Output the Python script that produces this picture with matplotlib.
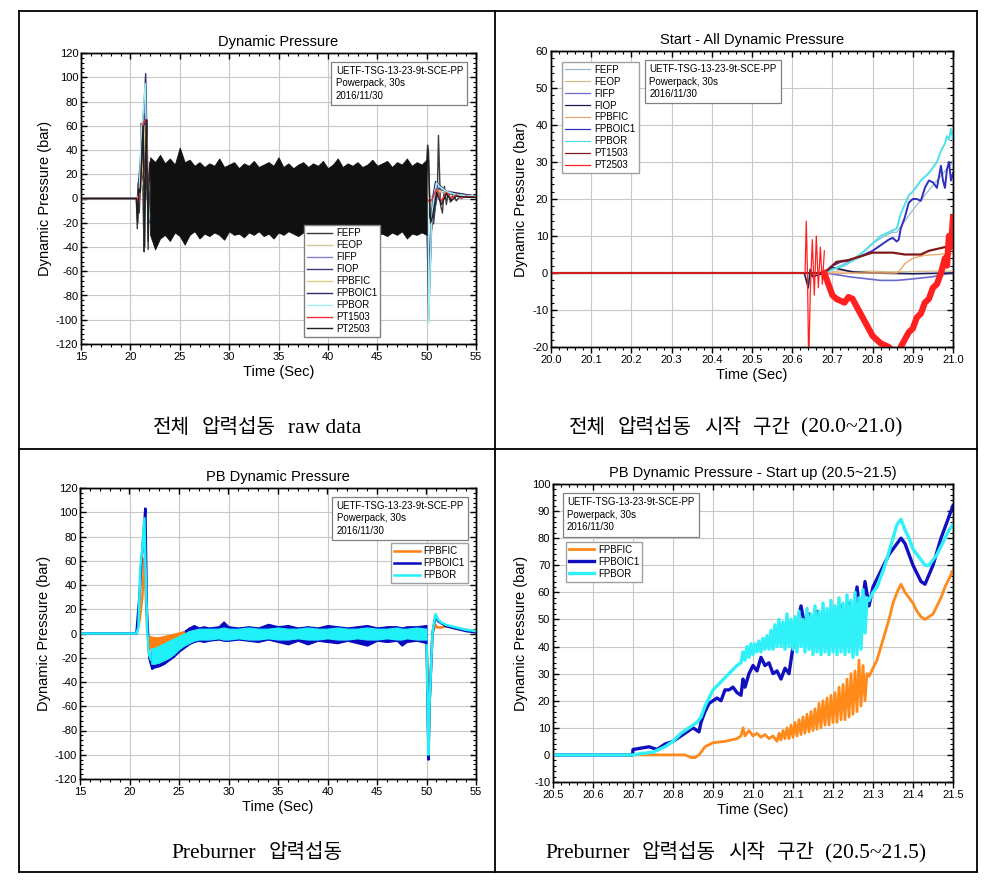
import matplotlib
matplotlib.use("Agg")
import matplotlib.pyplot as plt
from matplotlib.lines import Line2D
from matplotlib.ticker import MultipleLocator, AutoMinorLocator
from matplotlib.offsetbox import TextArea, HPacker, AnchoredOffsetbox

plt.rcParams['font.family'] = ['Liberation Sans', 'DejaVu Sans']
plt.rcParams['axes.unicode_minus'] = False

W, H = 995, 882
INFO = "UETF-TSG-13-23-9t-SCE-PP\nPowerpack, 30s\n2016/11/30"

# -------------------------
# Panel 1: Dynamic Pressure (raw data, 15~55 s)
# -------------------------
p1_names = ["FEFP", "FEOP", "FIFP", "FIOP", "FPBFIC", "FPBOIC1", "FPBOR", "PT1503", "PT2503"]
p1_colors = ["#3a3a3a", "#cfc79a", "#8080d8", "#3c3c78", "#d8d080", "#303070", "#9ff0f4", "#e83040", "#202020"]

p1_fefp_t = [15, 20.6, 20.7, 20.8, 20.9, 21.0, 21.1, 21.2, 21.3, 21.4, 21.5, 21.6, 21.7, 21.8, 21.9, 22.0, 22.3, 49.9,
             50.0, 50.1, 50.2, 50.3, 50.5, 50.7, 50.9, 51.1, 51.2, 51.4, 51.6, 51.8, 52.0, 52.2, 52.4, 52.7, 53.0, 53.5, 54.0, 55.0]
p1_fefp_v = [0, 0, -25, 13, -12, 8, 62, 58, -10, -44, 55, 66, 64, -42, 12, 30, 0, 0,
             25, 44, 38, -15, -20, -21, -5, 10, 52, -5, -12, 10, -5, 6, -3, 4, -2, 3, 1, 2]
p1_feop_t = [15, 20.7, 21.0, 21.3, 21.6, 22.0, 22.3, 50.0, 50.6, 51.0, 51.5, 52.5, 55.0]
p1_feop_v = [0, 0, 5, 15, 25, 5, 0, 0, 2, 8, 5, 3, 2]
p1_fifp_t = [15, 20.7, 21.0, 21.3, 21.5, 21.7, 22.0, 22.3, 50.0, 50.2, 50.5, 51.0, 52.0, 55.0]
p1_fifp_v = [0, 0, 10, 40, 80, 10, -5, 0, 0, -60, -10, 10, 5, 2]
p1_fiop_t = [15, 20.7, 20.9, 21.2, 21.5, 21.7, 22.0, 22.3, 50.0, 50.2, 50.4, 50.8, 51.2, 52.0, 55.0]
p1_fiop_v = [0, 0, 5, 40, 70, 0, -10, 0, 0, -75, -30, -10, 8, 4, 2]
p1_fpbfic_t = [15, 20.7, 21.0, 21.3, 21.5, 21.8, 22.0, 22.3, 50.0, 50.2, 50.6, 51.0, 52.0, 55.0]
p1_fpbfic_v = [0, 0, 10, 30, 60, 0, -8, 0, 0, -95, 0, 7, 5, 2]
p1_fpboic1_t = [15, 20.7, 21.0, 21.2, 21.4, 21.55, 21.75, 22.0, 22.3, 50.0, 50.2, 50.6, 50.9, 52.0, 55.0]
p1_fpboic1_v = [0, 0, 30, 58, 80, 103, 20, -20, 0, 0, -100, 0, 14, 6, 2]
p1_fpbor_t = [15, 20.7, 20.9, 21.1, 21.3, 21.5, 21.6, 21.8, 22.0, 22.3, 50.0, 50.15, 50.22, 50.35, 50.5, 50.7, 51.0, 51.3, 52.0, 53.0, 55.0]
p1_fpbor_v = [0, 0, 5, 55, 70, 95, 60, 0, -18, 0, 0, 0, -103, -60, -20, 0, 13, 10, 6, 3, 2]
p1_pt1503_t = [15, 20.7, 20.9, 21.1, 21.3, 21.5, 21.6, 21.8, 22.0, 50.0, 50.3, 50.6, 51.0, 51.5, 52.0, 52.5, 53.0, 53.5, 54.0, 55.0]
p1_pt1503_v = [0, 0, -3, 20, 62, 65, 60, -2, 0, 0, -3, 0, 8, -2, 5, 0, 3, 0, 2, 1]

# noise band of PT2503 (envelope, 0.5 s steps from 22.0 to 50.0)
p1_band_t = [22.0, 22.5, 23.0, 23.5, 24.0, 24.5, 25.0, 25.5, 26.0, 26.5, 27.0, 27.5, 28.0, 28.5, 29.0, 29.5,
             30.0, 30.5, 31.0, 31.5, 32.0, 32.5, 33.0, 33.5, 34.0, 34.5, 35.0, 35.5, 36.0, 36.5, 37.0, 37.5,
             38.0, 38.5, 39.0, 39.5, 40.0, 40.5, 41.0, 41.5, 42.0, 42.5, 43.0, 43.5, 44.0, 44.5, 45.0, 45.5,
             46.0, 46.5, 47.0, 47.5, 48.0, 48.5, 49.0, 49.5, 50.0]
p1_band_hi = [34, 30, 36, 29, 33, 28, 42, 30, 32, 27, 30, 26, 29, 27, 33, 26,
              28, 30, 25, 29, 27, 31, 26, 28, 30, 27, 34, 26, 29, 25, 28, 30,
              26, 29, 27, 31, 25, 28, 33, 26, 29, 27, 30, 26, 28, 32, 27, 29,
              31, 26, 30, 28, 33, 27, 30, 28, 32]
p1_band_lo = [-30, -42, -33, -30, -35, -28, -31, -38, -30, -27, -33, -29, -31, -28, -30, -34,
              -27, -30, -29, -32, -28, -30, -27, -31, -29, -33, -28, -30, -27, -29, -31, -28,
              -30, -33, -27, -29, -31, -28, -30, -27, -32, -29, -28, -30, -35, -28, -30, -29,
              -31, -28, -30, -27, -33, -29, -30, -28, -30]
p1_pt2503_t = [15, 20.6, 20.75, 20.85, 21.0, 21.3, 21.45, 21.6, 21.8, 21.9, 22.0, 22.3, 49.9, 50.0, 50.1, 50.2, 50.4, 50.6, 51.0, 51.5, 52.0, 52.5, 53.0, 54.0, 55.0]
p1_pt2503_v = [0, 0, -20, 8, 5, 60, -40, 65, -35, 20, 30, 0, 0, 20, 40, 30, -20, -15, 5, -5, 4, -2, 2, 1, 1]

# -------------------------
# Panel 2: Start - All Dynamic Pressure (20.0~21.0)
# -------------------------
p2_colors = ["#9ab8d0", "#d2b888", "#6a6ad0", "#1c1c50", "#f0a868", "#3030c0", "#50e0e8", "#801818", "#ff2020"]

p2_fefp_t = [20.0, 20.68, 20.7, 20.74, 20.78, 20.8, 20.83, 20.85, 20.86, 20.88, 20.9, 20.93, 20.96, 21.0]
p2_fefp_v = [0, 0, 1, 3, 6, 8, 10, 11, 11, 14, 17, 21, 25, 30]
p2_feop_t = [20.0, 20.68, 20.72, 20.76, 20.8, 20.85, 20.9, 20.95, 21.0]
p2_feop_v = [0, 0, 0.6, 0.4, 0.5, 0.3, 0.4, 0.5, 0.5]
p2_fifp_t = [20.0, 20.68, 20.7, 20.72, 20.74, 20.78, 20.82, 20.86, 20.9, 20.95, 20.97, 21.0]
p2_fifp_v = [0, 0, -0.3, -0.6, -1.0, -1.5, -2.0, -2.0, -1.6, -1.0, -0.5, 0]
p2_fiop_t = [20.0, 20.63, 20.64, 20.645, 20.65, 20.68, 20.7, 20.72, 20.75, 20.8, 20.9, 21.0]
p2_fiop_v = [0, 0, -4, 1, -1, 0, 1.5, 1.0, 0.3, 0, -0.2, 0]
p2_fpbfic_t = [20.0, 20.86, 20.87, 20.88, 20.9, 20.93, 20.96, 21.0]
p2_fpbfic_v = [0, 0, 1, 2.5, 4, 4.8, 5, 5.2]
p2_fpboic1_t = [20.0, 20.68, 20.7, 20.72, 20.75, 20.78, 20.8, 20.82, 20.84, 20.85, 20.86, 20.865, 20.87, 20.88, 20.89,
                20.9, 20.91, 20.92, 20.93, 20.94, 20.95, 20.96, 20.97, 20.975, 20.98, 20.985, 20.99, 20.995, 21.0]
p2_fpboic1_v = [0, 0, 2, 3, 3.5, 5, 6, 7.5, 9, 9.5, 8.5, 9, 12, 15, 19,
                20, 20, 19.5, 23, 25, 24.5, 23, 29, 25, 23, 28, 30, 25, 27]
p2_fpbor_t = [20.0, 20.68, 20.7, 20.73, 20.76, 20.78, 20.8, 20.82, 20.84, 20.86, 20.87, 20.89, 20.9, 20.92, 20.94,
              20.96, 20.97, 20.98, 20.985, 20.99, 20.995, 21.0]
p2_fpbor_v = [0, 0, 1, 2, 4, 6, 8, 10, 11, 12, 16, 21, 22, 25, 27, 30, 33, 35, 37, 36, 39, 36]
p2_pt1503_t = [20.0, 20.68, 20.69, 20.71, 20.74, 20.77, 20.8, 20.85, 20.88, 20.92, 20.94, 20.96, 20.98, 21.0]
p2_pt1503_v = [0, 0, 1, 3, 3.5, 4.5, 5.5, 5.5, 5, 5, 6, 6.5, 7, 7]
p2_pt2503_t = [20.0, 20.632, 20.635, 20.638, 20.641, 20.645, 20.65, 20.655, 20.66, 20.665, 20.67, 20.675, 20.68]
p2_pt2503_v = [0, 0, 14, 0, -25, -5, 9, -6, 10, -4, 7, -3, 6]
p2_pt2503_band_t = [20.68, 20.69, 20.7, 20.71, 20.72, 20.73, 20.74, 20.75, 20.76, 20.77, 20.78, 20.79, 20.8, 20.81,
                    20.82, 20.83, 20.84, 20.85, 20.86, 20.87, 20.88, 20.89, 20.9, 20.91, 20.92, 20.93, 20.94,
                    20.95, 20.96, 20.97, 20.98, 20.985, 20.99, 20.995, 21.0]
p2_pt2503_band_v = [0, -3, -6, -7, -7.5, -8, -6.5, -7, -9, -11, -13, -15, -17, -18,
                    -19, -19.5, -20, -21, -22, -20, -18, -16, -15, -12, -11, -8, -7,
                    -4, -3, 0, 4, 2, 10, 7, 15]

# -------------------------
# Panel 3: PB Dynamic Pressure (15~55)
# -------------------------
p3_names = ["FPBFIC", "FPBOIC1", "FPBOR"]
p3_colors = ["#ff8010", "#0808c0", "#20f0f8"]

p3_fpbfic_t = [15, 20.7, 21.0, 21.3, 21.5, 21.6, 21.8, 22.0, 23.0, 24.0, 25.0, 26.0, 27.0, 49.9,
               50.0, 50.1, 50.2, 50.3, 50.6, 50.9, 51.1, 51.5, 52.0, 53.0, 54.0, 55.0]
p3_fpbfic_v = [0, 0, 10, 30, 62, 40, 0, -8, -9, -6, -3, -1, 0, 0,
               0, -40, -100, -60, 0, 7, 5, 5, 6, 4, 3, 2]
p3_fpboic1_t = [15, 20.7, 21.0, 21.2, 21.4, 21.6, 21.75, 22.0, 22.3, 23.0, 24.0, 25.0, 26.0, 27.0, 49.9,
                50.0, 50.1, 50.2, 50.3, 50.6, 50.9, 51.2, 52.0, 53.0, 54.0, 55.0]
p3_fpboic1_v = [0, 0, 30, 58, 80, 103, 20, -20, -29, -24, -16, -8, -3, 0, 0,
                0, -50, -104, -60, 0, 14, 10, 6, 4, 2, 1]
p3_fpbor_t = [15, 20.7, 20.9, 21.1, 21.3, 21.5, 21.6, 21.8, 22.0, 22.2, 23.0, 24.0, 25.0, 26.0, 27.0, 49.9,
              50.0, 50.1, 50.2, 50.3, 50.6, 50.9, 51.2, 51.5, 52.0, 53.0, 54.0, 55.0]
p3_fpbor_v = [0, 0, 5, 55, 70, 95, 60, 0, -18, -22, -18, -13, -7, -3, 0, 0,
              0, -50, -100, -60, 0, 16, 11, 9, 7, 5, 3, 2]

p3_band_t = [22.2, 22.5, 23.0, 23.5, 24.0, 24.5, 25.0, 25.5, 26.0, 26.5, 27.0, 27.5, 28.0, 29.0, 29.5, 30.0, 31.0, 32.0,
             33.0, 34.0, 35.0, 36.0, 37.0, 38.0, 39.0, 40.0, 41.0, 42.0, 43.0, 44.0, 45.0, 46.0, 47.0, 47.5, 48.0,
             49.0, 50.0]
p3_blue_hi = [-10, -10, -8, -6, -4, -2, 0, 2, 5, 7, 5, 6, 5, 6, 10, 6, 5, 6, 5, 8, 6, 7, 5, 6, 5, 7, 6, 5, 6, 7, 5, 6, 6, 5, 6, 6, 7]
p3_blue_lo = [-29, -28, -27, -25, -22, -19, -15, -12, -9, -7, -6, -7, -6, -5, -6, -6, -5, -6, -7, -5, -7, -9, -6, -9, -6, -7, -8, -6, -8, -10, -6, -7, -6, -10, -7, -6, -8]
p3_cyan_hi = [-12, -12, -10, -8, -6, -4, -2, 0, 2, 3, 4, 4, 4, 4, 5, 4, 4, 5, 4, 4, 5, 4, 4, 5, 4, 4, 5, 4, 4, 5, 4, 4, 5, 4, 4, 5, 4]
p3_cyan_lo = [-25, -25, -24, -22, -20, -17, -13, -10, -8, -6, -5, -5, -5, -4, -5, -5, -4, -5, -5, -4, -5, -5, -4, -5, -5, -4, -5, -5, -4, -5, -5, -4, -5, -5, -4, -5, -5]
p3_orange_t = [22.0, 22.5, 23.0, 23.5, 24.0, 24.5, 25.0, 25.5]
p3_orange_hi = [-2, -3, -3, -2, -1, 0, 1, 2]
p3_orange_lo = [-12, -15, -14, -13, -12, -10, -8, -6]

# -------------------------
# Panel 4: PB Dynamic Pressure - Start up (20.5~21.5)
# -------------------------
p4_fpbfic_t = [20.5, 20.83, 20.845, 20.855, 20.865, 20.88, 20.9, 20.93, 20.96, 20.97, 20.975, 20.98, 20.99, 21.0,
               21.01, 21.02, 21.03, 21.04, 21.05,
               21.060, 21.065, 21.070, 21.075, 21.080, 21.085, 21.090, 21.095, 21.100, 21.105, 21.110, 21.115,
               21.120, 21.125, 21.130, 21.135, 21.140, 21.145, 21.150, 21.155, 21.160, 21.165, 21.170, 21.175,
               21.180, 21.185, 21.190, 21.195, 21.200, 21.205, 21.210, 21.215, 21.220, 21.225, 21.230, 21.235,
               21.240, 21.245, 21.250, 21.255, 21.260, 21.265, 21.270, 21.275, 21.280, 21.285,
               21.29, 21.3, 21.31, 21.32, 21.33, 21.34, 21.35, 21.36, 21.37, 21.38, 21.39, 21.4, 21.41, 21.42,
               21.43, 21.44, 21.45, 21.46, 21.47, 21.48, 21.49, 21.5]
p4_fpbfic_v = [0, 0, -1, -1, 0, 3, 4.5, 5, 6, 7, 10, 7, 9, 7,
               8, 6.5, 7.5, 6, 7,
               5, 8, 5.5, 9, 6, 10, 6, 11, 6.5, 12, 7, 13,
               7.5, 14, 8, 15, 8.5, 16, 9, 17, 9.5, 19, 10, 20,
               11, 21, 11, 22, 12, 23, 12, 25, 13, 26, 13, 28,
               14, 30, 15, 31, 16, 35, 18, 33, 20, 30,
               29, 32, 35, 40, 45, 50, 56, 60, 63, 60, 58, 56, 53, 51,
               50, 51, 52, 55, 58, 62, 65, 68]
p4_fpboic1_t = [20.5, 20.699, 20.7, 20.72, 20.74, 20.75, 20.76, 20.78, 20.8, 20.82, 20.84, 20.85, 20.86, 20.865,
                20.87, 20.88, 20.89, 20.9, 20.91, 20.92, 20.93, 20.94, 20.95, 20.96, 20.97, 20.975, 20.98, 20.99,
                21.0, 21.01, 21.02, 21.03, 21.04, 21.05, 21.06, 21.07, 21.08, 21.09, 21.1, 21.11, 21.12, 21.13,
                21.14, 21.15, 21.16, 21.17, 21.18, 21.19, 21.2, 21.21, 21.22, 21.23, 21.24, 21.25, 21.26, 21.27,
                21.28, 21.29, 21.3, 21.32, 21.34, 21.36, 21.37, 21.38, 21.4, 21.42, 21.43, 21.45, 21.47, 21.49, 21.5]
p4_fpboic1_v = [0, 0, 2, 2.5, 3, 2.5, 2, 4, 5, 7, 9, 10, 9, 8.5,
                12, 16, 19, 20, 21, 20, 24, 24, 25, 23, 22, 28, 25, 30,
                33, 31, 36, 33, 34, 30, 31, 28, 32, 30, 40, 48, 55, 47,
                52, 45, 53, 44, 50, 45, 48, 46, 55, 45, 56, 48, 62, 50,
                64, 55, 62, 68, 74, 78, 80, 78, 70, 64, 63, 70, 80, 88, 92]
p4_fpbor_t = [20.5, 20.7, 20.72, 20.75, 20.78, 20.8, 20.82, 20.84, 20.86, 20.87, 20.88, 20.9, 20.92, 20.94, 20.96,
              20.970, 20.975, 20.980, 20.985, 20.990, 20.995, 21.000, 21.005, 21.010, 21.015, 21.020, 21.025,
              21.030, 21.035, 21.040, 21.045, 21.050, 21.055, 21.060, 21.065, 21.070, 21.075, 21.080, 21.085,
              21.090, 21.095, 21.100, 21.105, 21.110, 21.115, 21.120, 21.125, 21.130, 21.135, 21.140, 21.145,
              21.150, 21.155, 21.160, 21.165, 21.170, 21.175, 21.180, 21.185, 21.190, 21.195, 21.200, 21.205,
              21.210, 21.215, 21.220, 21.225, 21.230, 21.235, 21.240, 21.245, 21.250, 21.255, 21.260, 21.265,
              21.270, 21.275, 21.280, 21.285,
              21.29, 21.3, 21.31, 21.32, 21.33, 21.34, 21.35, 21.36, 21.37, 21.38, 21.39, 21.4, 21.41, 21.42,
              21.43, 21.44, 21.45, 21.46, 21.47, 21.48, 21.49, 21.5]
p4_fpbor_v = [0, 0, 0.5, 1, 3, 5, 8, 10, 12, 14, 18, 24, 27, 30, 33,
              34, 38, 35, 40, 36, 41, 37, 41, 38, 42, 38, 43,
              39, 44, 39, 46, 39, 48, 40, 50, 40, 49, 39, 52,
              40, 50, 39, 51, 38, 53, 40, 50, 38, 54, 39, 52,
              37, 55, 38, 53, 37, 56, 38, 54, 37, 57, 38, 55,
              37, 58, 38, 56, 37, 59, 38, 57, 36, 60, 37, 58,
              39, 61, 45, 58,
              57, 60, 62, 66, 70, 75, 80, 85, 87, 83, 80, 76, 74, 72,
              70, 70, 72, 74, 77, 80, 83, 85]

# captions under each chart: (word, script) pairs
captions = [
    [("전체", "ko"), ("압력섭동", "ko"), ("raw data", "en")],
    [("전체", "ko"), ("압력섭동", "ko"), ("시작", "ko"), ("구간", "ko"), ("(20.0~21.0)", "en")],
    [("Preburner", "en"), ("압력섭동", "ko")],
    [("Preburner", "en"), ("압력섭동", "ko"), ("시작", "ko"), ("구간", "ko"), ("(20.5~21.5)", "en")],
]


def px_axes(fig, left, top, right, bottom):
    return fig.add_axes([left / W, 1 - bottom / H, (right - left) / W, (bottom - top) / H])


def style_axes(ax, xlim, ylim, xmaj, ymaj, xfmt=None):
    ax.set_xlim(*xlim)
    ax.set_ylim(*ylim)
    ax.xaxis.set_major_locator(MultipleLocator(xmaj))
    ax.yaxis.set_major_locator(MultipleLocator(ymaj))
    ax.xaxis.set_minor_locator(AutoMinorLocator(5))
    ax.yaxis.set_minor_locator(AutoMinorLocator(5))
    if xfmt:
        ax.xaxis.set_major_formatter(xfmt)
    ax.grid(True, which="major", color="#c8c8c8", lw=0.8, zorder=0)
    ax.set_axisbelow(True)
    ax.tick_params(which="both", labelsize=8, pad=2, right=True, top=False)
    ax.tick_params(axis="x", which="both", direction="out")
    ax.tick_params(axis="y", which="both", direction="in")
    ax.tick_params(which="major", length=4, width=1)
    ax.tick_params(which="minor", length=2.5, width=0.8)
    # top ticks point inward: an empty twin carries them
    tw = ax.twiny()
    tw.set_xlim(*xlim)
    tw.xaxis.set_major_locator(MultipleLocator(xmaj))
    tw.xaxis.set_minor_locator(AutoMinorLocator(5))
    tw.tick_params(axis="x", which="both", direction="in", top=True, bottom=False, labeltop=False, labelbottom=False)
    tw.tick_params(axis="x", which="major", length=4, width=1)
    tw.tick_params(axis="x", which="minor", length=2.5, width=0.8)
    tw.tick_params(axis="y", left=False, right=False, labelleft=False, labelright=False)
    for s in ax.spines.values():
        s.set_linewidth(1.0)
    for s in tw.spines.values():
        s.set_linewidth(1.0)
    ax.set_xlabel("Time (Sec)", fontsize=10.5, labelpad=2)
    ax.set_ylabel("Dynamic Pressure (bar)", fontsize=10.5, labelpad=3)


def info_box(ax, x, y):
    ax.text(x, y, INFO, transform=ax.transAxes, fontsize=7, va="top", ha="left", linespacing=1.3,
            bbox=dict(boxstyle="square,pad=0.45", fc="white", ec="#808080", lw=0.9), zorder=10)


LEG = dict(fontsize=7, frameon=True, fancybox=False, handlelength=2.6, labelspacing=0.2,
           borderpad=0.3, handletextpad=0.4, framealpha=1)

fig = plt.figure(figsize=(W / 100, H / 100), dpi=100)

# table frame
for x0, y0, x1, y1 in [(19, 11, 977, 11), (19, 872, 977, 872), (19, 11, 19, 872), (977, 11, 977, 872),
                       (495, 11, 495, 872), (19, 449, 977, 449)]:
    fig.add_artist(Line2D([x0 / W, x1 / W], [1 - y0 / H, 1 - y1 / H], color="black", lw=1.3, transform=fig.transFigure))

# ---- panel 1
ax1 = px_axes(fig, 81, 53, 476, 344)
ax1.fill_between(p1_band_t, p1_band_lo, p1_band_hi, color="#101010", lw=0.6, zorder=4)
p1_series = [(p1_fefp_t, p1_fefp_v), (p1_feop_t, p1_feop_v), (p1_fifp_t, p1_fifp_v), (p1_fiop_t, p1_fiop_v),
             (p1_fpbfic_t, p1_fpbfic_v), (p1_fpboic1_t, p1_fpboic1_v), (p1_fpbor_t, p1_fpbor_v),
             (p1_pt1503_t, p1_pt1503_v), (p1_pt2503_t, p1_pt2503_v)]
for (t, v), name, c in zip(p1_series, p1_names, p1_colors):
    ax1.plot(t, v, color=c, lw=1.0, label=name, zorder=3)
info_box(ax1, 0.645, 0.955)
ax1.legend(loc="lower left", bbox_to_anchor=(0.552, 0.008), edgecolor="#808080", **LEG).set_zorder(11)
style_axes(ax1, (15, 55), (-120, 120), 5, 20)
ax1.set_title("Dynamic Pressure", fontsize=10.5, pad=5)

# ---- panel 2
ax2 = px_axes(fig, 551, 51, 953, 347)
p2_series = [(p2_fefp_t, p2_fefp_v), (p2_feop_t, p2_feop_v), (p2_fifp_t, p2_fifp_v), (p2_fiop_t, p2_fiop_v),
             (p2_fpbfic_t, p2_fpbfic_v), (p2_fpboic1_t, p2_fpboic1_v), (p2_fpbor_t, p2_fpbor_v),
             (p2_pt1503_t, p2_pt1503_v), (p2_pt2503_t, p2_pt2503_v)]
p2_lw = [0.9, 0.9, 1.2, 1.2, 1.0, 1.4, 1.4, 1.6, 0.9]
for (t, v), name, c, lw in zip(p2_series, p1_names, p2_colors, p2_lw):
    ax2.plot(t, v, color=c, lw=lw, label=name, zorder=3)
ax2.plot(p2_pt2503_band_t, p2_pt2503_band_v, color=p2_colors[8], lw=4.5, zorder=4)
info_box(ax2, 0.245, 0.955)
leg2 = ax2.legend(loc="upper left", bbox_to_anchor=(0.016, 0.98), edgecolor="#a0a0a0", **LEG)
for ln in leg2.get_lines():
    ln.set_linewidth(0.9)
style_axes(ax2, (20.0, 21.0), (-20, 60), 0.1, 10, xfmt="{x:.1f}")
ax2.set_title("Start - All Dynamic Pressure", fontsize=10.5, pad=5)

# ---- panel 3
ax3 = px_axes(fig, 80, 488, 476, 779)
ax3.fill_between(p3_band_t, p3_blue_lo, p3_blue_hi, color=p3_colors[1], lw=0.8, zorder=4)
ax3.fill_between(p3_orange_t, p3_orange_lo, p3_orange_hi, color=p3_colors[0], lw=0.8, zorder=4.5)
ax3.fill_between(p3_band_t, p3_cyan_lo, p3_cyan_hi, color=p3_colors[2], lw=0.8, zorder=5)
p3_series = [(p3_fpbfic_t, p3_fpbfic_v), (p3_fpboic1_t, p3_fpboic1_v), (p3_fpbor_t, p3_fpbor_v)]
for (t, v), name, c in zip(p3_series, p3_names, p3_colors):
    ax3.plot(t, v, color=c, lw=1.8, label=name, zorder=3)
info_box(ax3, 0.648, 0.955)
ax3.legend(loc="upper left", bbox_to_anchor=(0.774, 0.826), edgecolor="#a0a0a0", **LEG).set_zorder(11)
style_axes(ax3, (15, 55), (-120, 120), 5, 20)
ax3.set_title("PB Dynamic Pressure", fontsize=10.5, pad=5)

# ---- panel 4
ax4 = px_axes(fig, 553, 484, 953, 782)
p4_series = [(p4_fpbfic_t, p4_fpbfic_v), (p4_fpboic1_t, p4_fpboic1_v), (p4_fpbor_t, p4_fpbor_v)]
p4_lw = [2.0, 2.4, 2.4]
for (t, v), name, c, lw in zip(p4_series, p3_names, ["#ff8a1a", "#1010c0", "#30f0f8"], p4_lw):
    ax4.plot(t, v, color=c, lw=lw, label=name, zorder=3)
info_box(ax4, 0.035, 0.955)
ax4.legend(loc="upper left", bbox_to_anchor=(0.02, 0.822), edgecolor="#a0a0a0", **LEG)
style_axes(ax4, (20.5, 21.5), (-10, 100), 0.1, 10, xfmt="{x:.1f}")
ax4.set_title("PB Dynamic Pressure - Start up (20.5~21.5)", fontsize=10.5, pad=5)

# captions: Korean in Noto Sans CJK, Latin in a serif face, words spaced like the source
KO = dict(fontsize=14.5, family="Noto Sans CJK KR")
EN = dict(fontsize=15.5, family="Liberation Serif")
for words, (cx, cy) in zip(captions, [(257, 427), (736, 427), (257, 853), (736, 853)]):
    parts = [TextArea(w, textprops=(KO if s == "ko" else EN)) for w, s in words]
    row = HPacker(children=parts, align="baseline", pad=0, sep=8.5)
    box = AnchoredOffsetbox(loc="center", child=row, frameon=False, pad=0, borderpad=0,
                            bbox_to_anchor=(cx / W, 1 - cy / H), bbox_transform=fig.transFigure)
    fig.add_artist(box)

fig.savefig("out.png", dpi=100)
